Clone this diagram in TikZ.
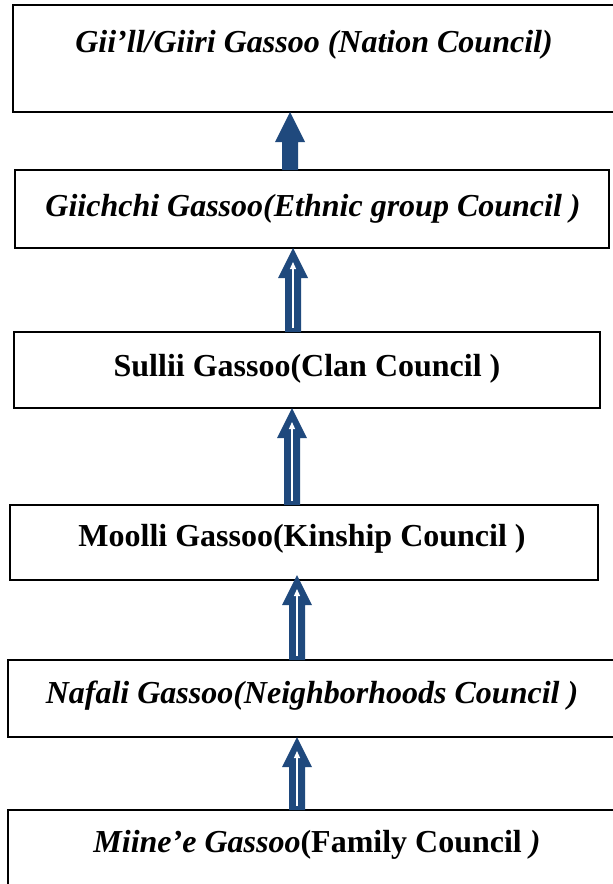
\documentclass[tikz,border=0pt]{standalone}
\usepackage{fontspec}
\setmainfont{Liberation Serif}
\usetikzlibrary{calc,arrows.meta}
\definecolor{arrowblue}{HTML}{1F497D}
\tikzset{
  box/.style={draw=black, line width=1.4pt},
  lbl/.style={anchor=base, inner sep=0pt, font=\fontsize{32}{38}\selectfont\bfseries},
}
\newcommand{\blockarr}[3]{%
  \path #1 coordinate (ab) #2 coordinate (at);
  \fill[arrowblue] ($(ab)+(-8,0)$) -- ($(at)+(-8,30)$) -- ($(at)+(-15,30)$) -- (at)
     -- ($(at)+(15,30)$) -- ($(at)+(8,30)$) -- ($(ab)+(8,0)$) -- cycle;
  \ifnum#3=1
    \draw[white, line width=1.3pt, -{Triangle[length=7pt,width=6pt]}] ($(ab)+(0,-4)$) -- ($(at)+(0,14)$);
  \fi
}
\begin{document}
\begin{tikzpicture}[x=1pt,y=-1pt]
\useasboundingbox (0,0) rectangle (613,884);
\fill[white] (0,0) rectangle (613,884);
% boxes
\draw[box] (13,5) rectangle (616,112);
\draw[box] (15,170) rectangle (609,248);
\draw[box] (14,332) rectangle (600,408);
\draw[box] (10,505) rectangle (598,580);
\draw[box] (8,660) rectangle (616,737);
\draw[box] (8,810) rectangle (616,890);
\coordinate (b1s) at (290,112);
\coordinate (b2n) at (290,170);
\coordinate (b2s) at (293,248);
\coordinate (b3n) at (293,332);
\coordinate (b3s) at (292,408);
\coordinate (b4n) at (292,505);
\coordinate (b4s) at (297,575);
\coordinate (b5n) at (297,660);
\coordinate (b5s) at (297,737);
\coordinate (b6n) at (297,810);
% texts
\node[lbl] (t1) at (314,52) {\itshape Gii’ll/Giiri Gassoo (Nation Council)};
\node[lbl] (t2) at (313,216) {\itshape Giichchi Gassoo(Ethnic group Council )};
\node[lbl] (t3) at (307,376) {Sullii Gassoo(Clan Council )};
\node[lbl] (t4) at (302,546) {Moolli Gassoo(Kinship Council )};
\node[lbl] (t5) at (312,703) {\itshape Nafali Gassoo(Neighborhoods Council )};
\node[lbl] (t6) at (317,852) {\itshape Miine’e Gassoo\upshape(Family Council\itshape\ )};
% arrows
\blockarr{(b2n)}{(b1s)}{0}
\blockarr{(b3n)}{(b2s)}{1}
\blockarr{(b4n)}{(b3s)}{1}
\blockarr{(b5n)}{(b4s)}{1}
\blockarr{(b6n)}{(b5s)}{1}
\end{tikzpicture}
\end{document}
